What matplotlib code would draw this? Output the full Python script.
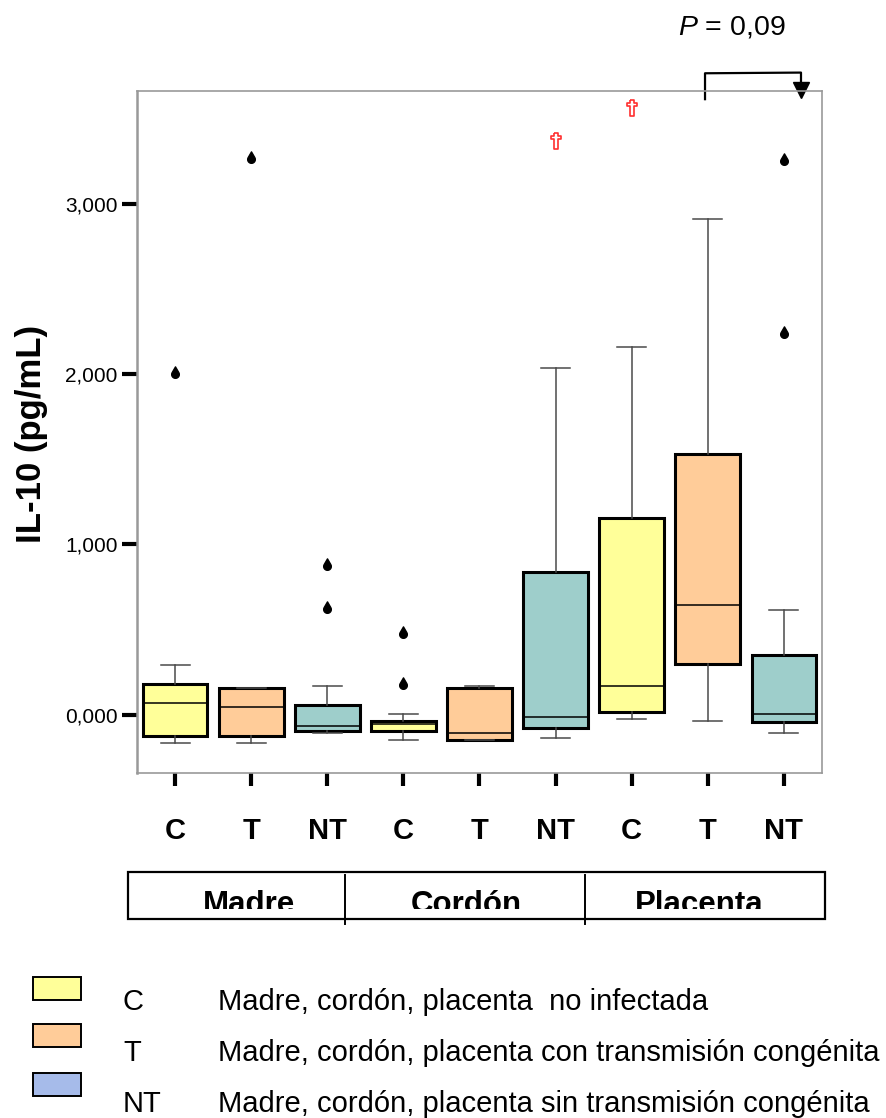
import numpy as np
import matplotlib
matplotlib.use("Agg")
import matplotlib.pyplot as plt
from matplotlib.path import Path
from matplotlib.patches import Rectangle
from matplotlib.lines import Line2D

plt.rcParams['font.family'] = ['Liberation Sans', 'DejaVu Sans']
plt.rcParams['mathtext.fontset'] = 'custom'
plt.rcParams['mathtext.it'] = 'Liberation Sans:italic'
plt.rcParams['mathtext.rm'] = 'Liberation Sans'

# datos (pg/mL)
grupos = ['Madre', 'Cordón', 'Placenta']
etiquetas = ['C', 'T', 'NT', 'C', 'T', 'NT', 'C', 'T', 'NT']
q1 = [-124, -124, -99, -97, -151, -81, 16, 295, -42]
mediana = [69, 42, -68, -56, -110, -13, 167, 641, 1]
q3 = [181, 154, 58, -40, 156, 835, 1156, 1531, 349]
bigote_inf = [-168, -167, -110, -151, -151, -136, -25, -40, -110]
bigote_sup = [293, 154, 167, 1, 167, 2033, 2160, 2911, 614]
atipicos = [[2000], [3262], [618, 872], [171, 473], [], [], [], [], [2232, 3252]]
extremos = [[], [], [], [], [], [3370], [3562], [], []]

colores = ['#FFFF99', '#FFCC99', '#9ECECB'] * 3
leyenda_col = ['#FFFF99', '#FFCC99', '#A6BBEA']
leyenda_cod = ['C', 'T', 'NT']
leyenda_txt = ['Madre, cordón, placenta  no infectada',
               'Madre, cordón, placenta con transmisión congénita',
               'Madre, cordón, placenta sin transmisión congénita']

W, H = 887, 1118
def fx(px):
    return px / W
def fy(py):
    return 1 - py / H

fig = plt.figure(figsize=(W / 100, H / 100), dpi=100)
ax = fig.add_axes([fx(137), fy(773), fx(822) - fx(137), fy(91) - fy(773)])

pos = np.arange(1, len(etiquetas) + 1)
stats = []
for i in range(len(etiquetas)):
    stats.append(dict(med=mediana[i], q1=q1[i], q3=q3[i],
                      whislo=bigote_inf[i], whishi=bigote_sup[i],
                      fliers=atipicos[i]))

# marcadores: gota y cruz
ang = np.radians(np.linspace(30, -210, 40))
gota = Path(np.vstack([np.column_stack([np.cos(ang), np.sin(ang)]), [[0, 2.0]], [[np.cos(ang[0]), np.sin(ang[0])]]]))
cruz = Path([(-0.2, 1), (0.2, 1), (0.2, 0.6), (0.6, 0.6), (0.6, 0.2), (0.2, 0.2),
             (0.2, -1), (-0.2, -1), (-0.2, 0.2), (-0.6, 0.2), (-0.6, 0.6),
             (-0.2, 0.6), (-0.2, 1)])

bp = ax.bxp(stats, positions=pos, widths=0.85, capwidths=0.38,
            patch_artist=True, showfliers=True,
            boxprops=dict(linewidth=2.2, edgecolor='black'),
            whiskerprops=dict(color='#4a4a4a', linewidth=1.1),
            capprops=dict(color='#4a4a4a', linewidth=1.1),
            medianprops=dict(color='black', linewidth=1.1),
            flierprops=dict(marker=gota, markersize=11, markerfacecolor='black',
                            markeredgecolor='black'))
for caja, c in zip(bp['boxes'], colores):
    caja.set_facecolor(c)

for p, ext in zip(pos, extremos):
    if ext:
        ax.plot([p] * len(ext), ext, linestyle='none', marker=cruz, markersize=11,
                markerfacecolor='white', markeredgecolor='#FF3030', markeredgewidth=1.2)

ax.set_xlim(0.5, 9.5)
ax.set_ylim(-343, 3661)
ax.set_yticks([0, 1000, 2000, 3000], ['0,000', '1,000', '2,000', '3,000'])
ax.set_xticks(pos, etiquetas)
ax.tick_params(axis='y', length=11, width=3, color='black', labelsize=15, pad=3)
ax.tick_params(axis='x', length=9, width=3, color='black', labelsize=21, pad=23)
for lab in ax.get_xticklabels():
    lab.set_fontweight('bold')
for s in ax.spines.values():
    s.set_color('#999999')
    s.set_linewidth(1.2)
ax.spines['left'].set_linewidth(1.8)

fig.text(fx(32), fy(434), 'IL-10 (pg/mL)', rotation=90, fontsize=25,
         fontweight='bold', ha='center', va='center')

# corchete P = 0,09
tr = ax.get_xaxis_transform()
ax.plot([7.963, 7.963, 9.224, 9.224], [0.988, 1.026, 1.027, 1.012], color='black',
        linewidth=1.6, transform=tr, clip_on=False)
ax.plot([9.224], [1.002], marker='v', markersize=12, color='black',
        transform=tr, clip_on=False)
fig.text(fx(732), fy(28), '$P$ = 0,09', fontsize=20.5, ha='center', va='center')

# caja de grupos
fig.add_artist(Rectangle((fx(128), fy(919)), fx(825) - fx(128), fy(872) - fy(919),
                         facecolor='none', edgecolor='black', linewidth=1.6))
recorte = Rectangle((fx(128), fy(909)), fx(825) - fx(128), fy(872) - fy(909),
                    transform=fig.transFigure, facecolor='none', edgecolor='none')
for g, cx in zip(grupos, [249, 466, 699]):
    t = fig.text(fx(cx), fy(913), g, fontsize=22.5, fontweight='bold',
                 ha='center', va='baseline')
    t.set_clip_path(recorte)
for dx in [345, 585]:
    fig.add_artist(Line2D([fx(dx), fx(dx)], [fy(875), fy(924)], color='black', linewidth=1.4))

# leyenda
for i, (c, cod, txt) in enumerate(zip(leyenda_col, leyenda_cod, leyenda_txt)):
    top = [977, 1024, 1073][i]
    fig.add_artist(Rectangle((fx(33), fy(top + 23)), fx(81) - fx(33), fy(top) - fy(top + 23),
                             facecolor=c, edgecolor='black', linewidth=1.4))
    ty = [1002, 1053, 1104][i]
    fig.text(fx(123), fy(ty), cod, fontsize=21, ha='left', va='center')
    fig.text(fx(218), fy(ty), txt, fontsize=21, ha='left', va='center')

fig.savefig('out.png', dpi=100)
